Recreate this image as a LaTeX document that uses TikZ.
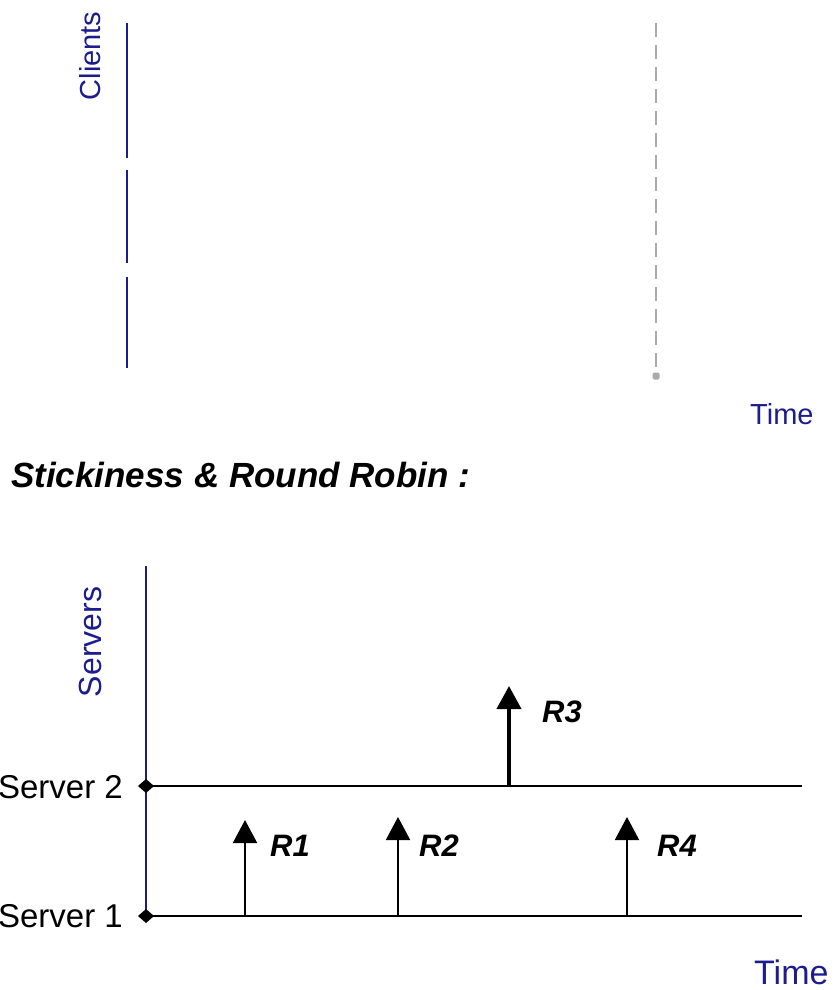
\documentclass[tikz,border=0pt]{standalone}
\usepackage{fontspec}
\setmainfont{Liberation Sans}
\usetikzlibrary{arrows.meta}
\definecolor{axisblue}{RGB}{28,28,140}
\definecolor{dashgray}{RGB}{170,170,170}
\tikzset{
  axisline/.style={draw=axisblue,line width=2pt},
  axislabel/.style={text=axisblue,inner sep=0pt,font=\fontsize{29}{29}\selectfont},
  srvline/.style={draw=black,line width=2pt},
  srvlabel/.style={text=black,inner sep=0pt,anchor=east,font=\fontsize{33}{33}\selectfont},
  dmark/.style={inner sep=0pt,minimum size=1pt,
    append after command={\pgfextra{\fill[black] (\tikzlastnode.center) ++(-8,0) -- ++(8,-7) -- ++(8,7) -- ++(-8,7) -- cycle;}}},
  req/.style={draw=black,line width=2pt,-{Triangle[width=24pt,length=23pt]}},
  reqthick/.style={draw=black,line width=4pt,-{Triangle[width=24pt,length=23pt]}},
  rlabel/.style={inner sep=0pt,anchor=west,font=\fontsize{31}{31}\selectfont\bfseries\itshape},
}
\begin{document}
\begin{tikzpicture}[x=1pt,y=-1pt]
\useasboundingbox (0,0) rectangle (838,990);
% ---- top part: clients ----
\node[axislabel,rotate=90] (clients) at (90,56) {Clients};
\coordinate (c1a) at (127,23);  \coordinate (c1b) at (127,158);
\coordinate (c2a) at (127,170); \coordinate (c2b) at (127,263);
\coordinate (c3a) at (127,277); \coordinate (c3b) at (127,368);
\draw[axisline] (c1a) -- (c1b);
\draw[axisline] (c2a) -- (c2b);
\draw[axisline] (c3a) -- (c3b);
\coordinate (gtop) at (656,23);
\node[rectangle,rounded corners=1.5pt,fill=dashgray,inner sep=0pt,minimum size=7pt] (gend) at (656,376) {};
\draw[draw=dashgray,line width=2pt,dash pattern=on 14pt off 8pt] (gtop) -- (gend.north);
\node[axislabel,anchor=west] (time1) at (750,414) {Time};
% ---- title ----
\node[inner sep=0pt,anchor=west,font=\fontsize{35}{35}\selectfont\bfseries\itshape] (title) at (11,475) {Stickiness \& Round Robin :};
% ---- bottom part: servers ----
\node[axislabel,rotate=90,font=\fontsize{32}{32}\selectfont] (servers) at (90,642) {Servers};
\coordinate (vtop) at (146,566);
\coordinate (vbot) at (146,918);
\draw[axisline] (vtop) -- (vbot);
\coordinate (s2end) at (802,786);
\coordinate (s1end) at (802,916);
\coordinate (s2) at (146,786);
\coordinate (s1) at (146,916);
\draw[srvline] (s2) -- (s2end);
\draw[srvline] (s1) -- (s1end);
\fill[shift={(s2)}] (-8,0) -- (0,-7) -- (8,0) -- (0,7) -- cycle;
\fill[shift={(s1)}] (-8,0) -- (0,-7) -- (8,0) -- (0,7) -- cycle;
\node[srvlabel] (lab2) at (123,787) {Server 2};
\node[srvlabel] (lab1) at (123,916) {Server 1};
% requests
\coordinate (r1b) at (245,916); \coordinate (r1t) at (245,820);
\coordinate (r2b) at (398,916); \coordinate (r2t) at (398,817);
\coordinate (r3b) at (509,786); \coordinate (r3t) at (509,686);
\coordinate (r4b) at (627,916); \coordinate (r4t) at (627,817);
\draw[req] (r1b) -- (r1t);
\draw[req] (r2b) -- (r2t);
\draw[reqthick] (r3b) -- (r3t);
\draw[req] (r4b) -- (r4t);
\node[rlabel] (R1) at (270,846) {R1};
\node[rlabel] (R2) at (419,846) {R2};
\node[rlabel] (R3) at (542,712) {R3};
\node[rlabel] (R4) at (657,846) {R4};
\node[axislabel,anchor=west,font=\fontsize{34}{34}\selectfont] (time2) at (754,972) {Time};
\end{tikzpicture}
\end{document}
